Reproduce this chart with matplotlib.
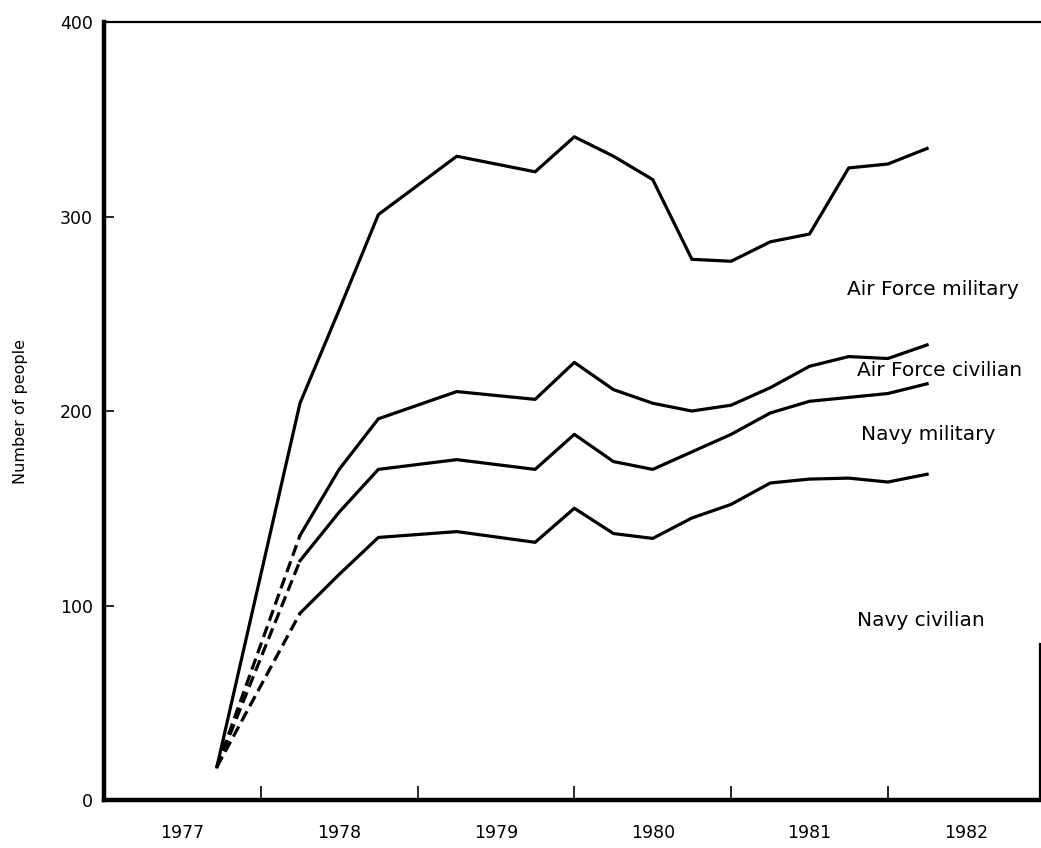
import matplotlib

matplotlib.use("Agg")
import matplotlib.pyplot as plt
from matplotlib.ticker import FixedLocator, NullFormatter

# quarterly readings (x in fractional years)
start_x = 1977.72
start_y = 17

af_mil_x = [1977.72, 1978.25, 1978.5, 1978.75, 1979.25, 1979.75, 1980.0, 1980.25,
            1980.5, 1980.75, 1981.0, 1981.25, 1981.5, 1981.75, 1982.0, 1982.25]
af_mil_y = [17, 204, 252, 301, 331, 323, 341, 331, 319, 278, 277, 287, 291, 325, 327, 335]

solid_x = [1978.25, 1978.5, 1978.75, 1979.25, 1979.75, 1980.0, 1980.25, 1980.5,
           1980.75, 1981.0, 1981.25, 1981.5, 1981.75, 1982.0, 1982.25]
af_civ_y = [136, 170, 196, 210, 206, 225, 211, 204, 200, 203, 212, 223, 228, 227, 234]
navy_mil_y = [123, 148, 170, 175, 170, 188, 174, 170, 179, 188, 199, 205, 207, 209, 214]
navy_civ_y = [96, 116, 135, 138, 132.5, 150, 137, 134.5, 145, 152, 163, 165, 165.5, 163.5, 167.5]

series_labels = ["Air Force military", "Air Force civilian", "Navy military", "Navy civilian"]
label_pos = [(1981.74, 262.5), (1981.80, 221), (1981.83, 187.7), (1981.80, 92.5)]

year_bounds = [1978, 1979, 1980, 1981, 1982]
year_labels = ["1977", "1978", "1979", "1980", "1981", "1982"]
year_mids = [1977.5, 1978.5, 1979.5, 1980.5, 1981.5, 1982.5]
y_ticks = [0, 100, 200, 300, 400]

plt.rcParams["font.family"] = "DejaVu Sans"

fig = plt.figure(figsize=(10.41, 8.48), dpi=100)
ax = fig.add_axes([0.0999, 0.0566, 0.8991, 0.9174])

lw = 2.3
ax.plot(af_mil_x, af_mil_y, color="black", lw=lw)
for ys in (af_civ_y, navy_mil_y, navy_civ_y):
    ax.plot(solid_x, ys, color="black", lw=lw)
    ax.plot([start_x, solid_x[0]], [start_y, ys[0]], color="black", lw=lw,
            linestyle=(0, (3.6, 1.8)))

for text, (tx, ty) in zip(series_labels, label_pos):
    ax.text(tx, ty, text, ha="left", va="center", fontsize=14.5)

ax.set_xlim(1977, 1982.97)
ax.set_ylim(0, 400)

ax.xaxis.set_major_locator(FixedLocator(year_bounds))
ax.xaxis.set_major_formatter(NullFormatter())
ax.set_xticks(year_mids, year_labels, minor=True)
ax.tick_params(axis="x", which="major", direction="in", length=10, width=1.2)
ax.tick_params(axis="x", which="minor", length=0, pad=17, labelsize=12.5)

ax.set_yticks(y_ticks)
ax.tick_params(axis="y", direction="in", length=7, width=1.2, pad=8, labelsize=12.5)
ax.set_ylabel("Number of people", fontsize=11.5)
ax.yaxis.set_label_coords(-0.081, 0.5)

ax.spines["left"].set_linewidth(3.2)
ax.spines["bottom"].set_linewidth(3.2)
ax.spines["top"].set_linewidth(1.6)
ax.spines["right"].set_linewidth(1.6)
ax.spines["right"].set_bounds(0, 80)

fig.savefig("out.png", dpi=100)
